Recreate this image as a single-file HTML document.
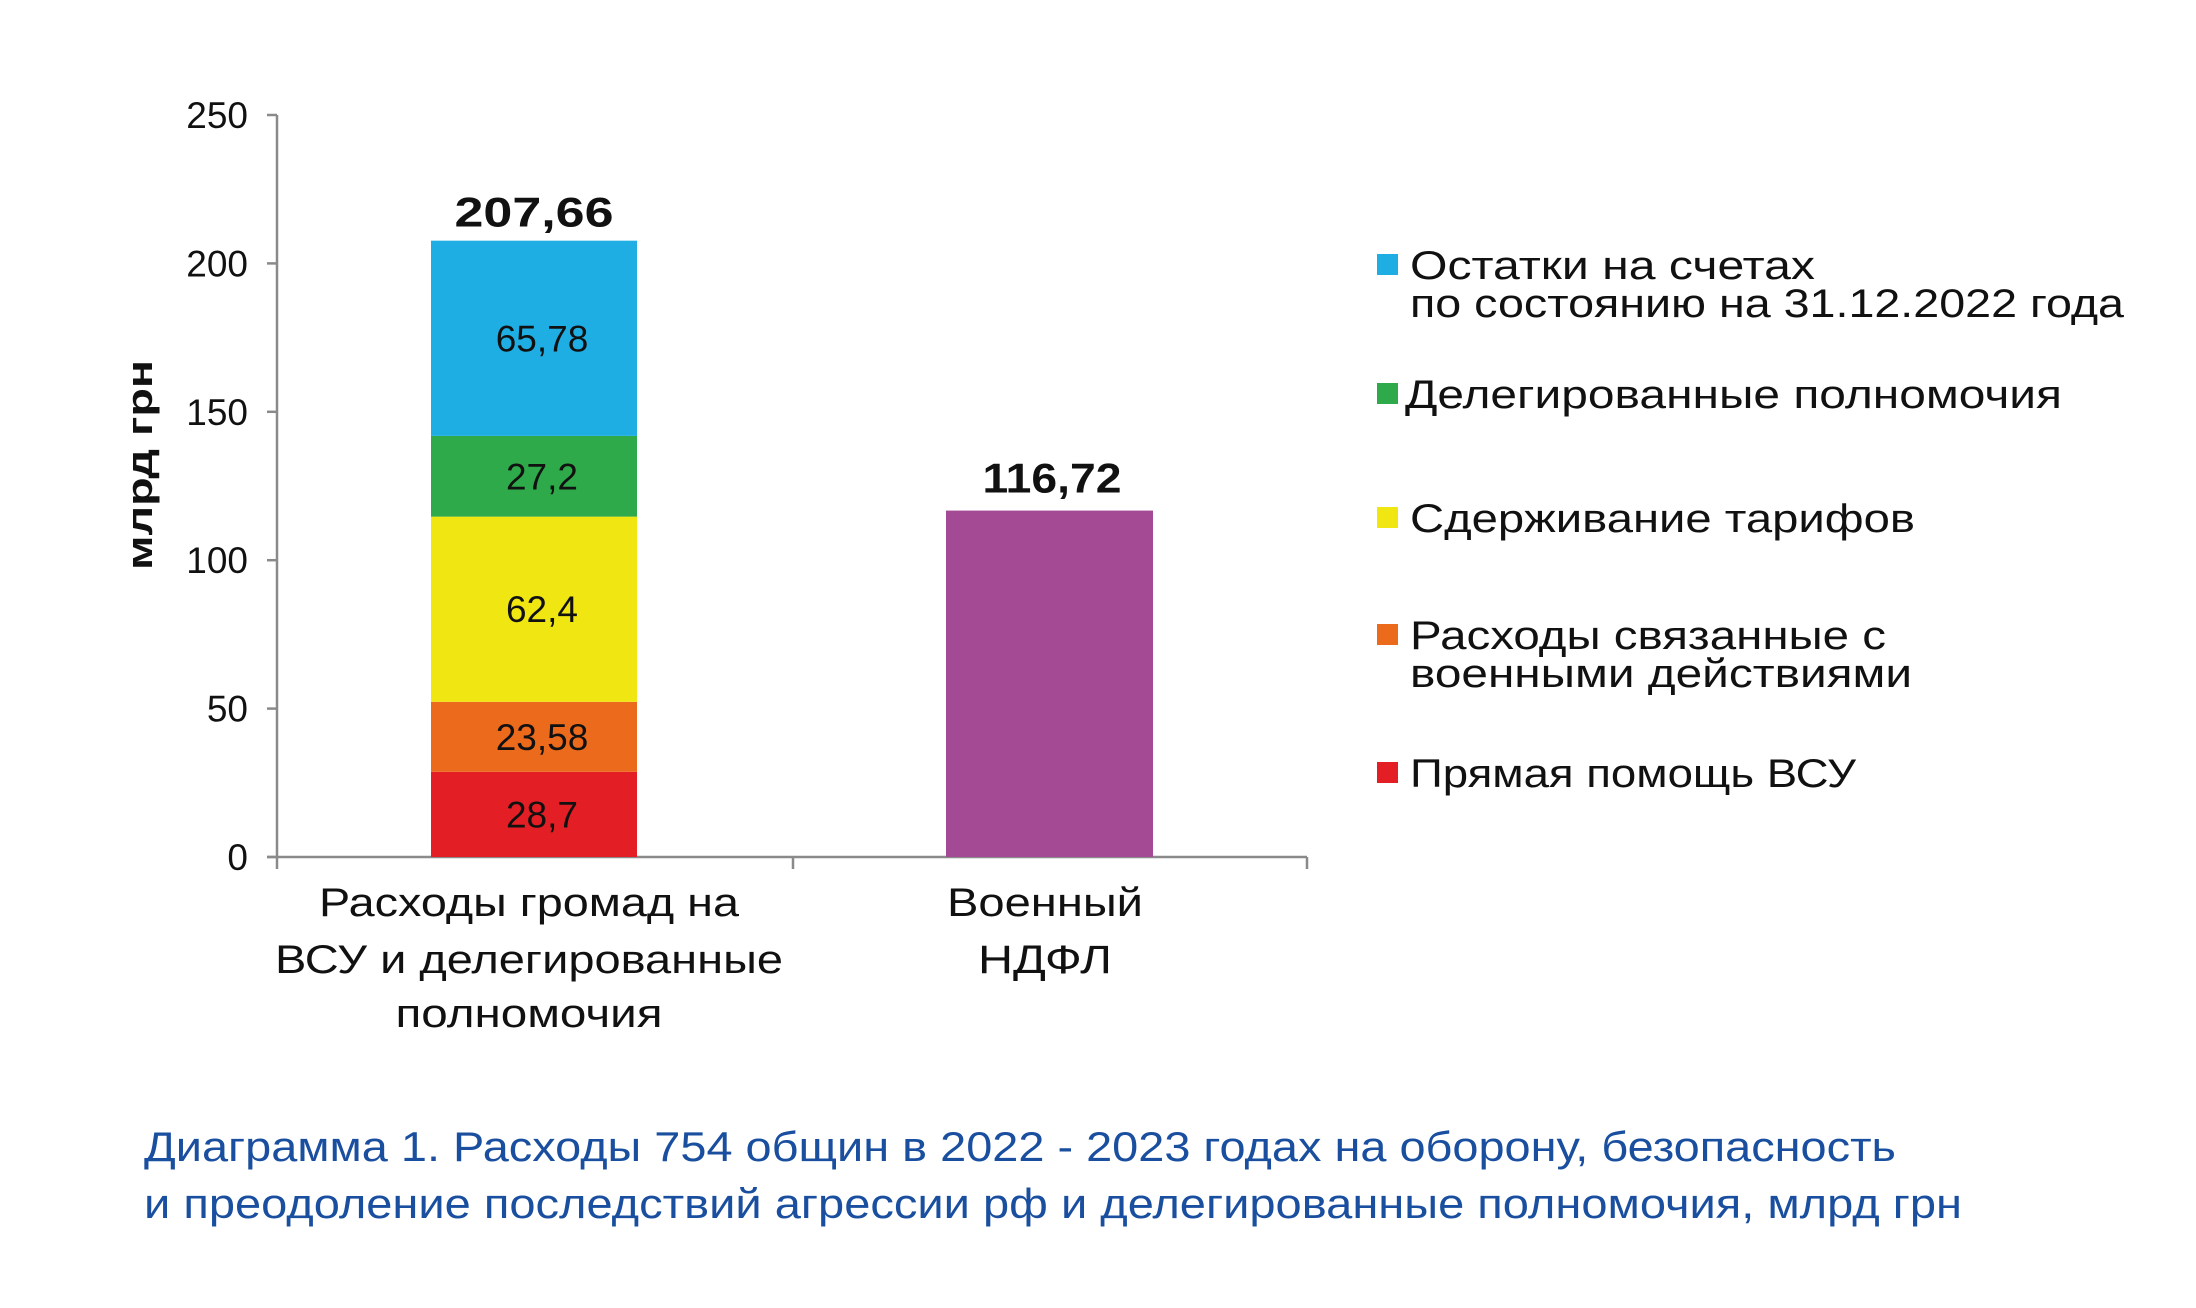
<!DOCTYPE html>
<html><head><meta charset="utf-8"><style>
body{margin:0;background:#fff}
svg text{font-family:"Liberation Sans",sans-serif}
</style></head><body>
<svg id="chart" width="2196" height="1303" xmlns="http://www.w3.org/2000/svg"></svg>
<script>
const yTicks=[0,50,100,150,200,250];
const stackNames=["Прямая помощь ВСУ","Расходы связанные с военными действиями","Сдерживание тарифов","Делегированные полномочия","Остатки на счетах"];
const stackValues=[28.7,23.58,62.4,27.2,65.78];
const stackLabels=["28,7","23,58","62,4","27,2","65,78"];
const stackTotalLabel="207,66";
const ndflValue=116.72;
const ndflLabel="116,72";
const colors=["#e31e24","#ec6a1c","#f0e611","#2eaa4a","#1eaee4"];
const svg=document.getElementById('chart');
const NS='http://www.w3.org/2000/svg';
const y0=857,y1=115,x0=277,xEnd=1307;
const y=v=>y0-(v/250)*(y0-y1);
function mk(t,a,txt){const e=document.createElementNS(NS,t);for(const k in a)e.setAttribute(k,a[k]);if(txt!=null)e.textContent=txt;svg.appendChild(e);return e;}
function fit(e,len){e.setAttribute('textLength',len);e.setAttribute('lengthAdjust','spacingAndGlyphs');}
let e;
e=mk('line',{x1:x0,y1:y1,x2:x0,y2:y0,stroke:'#8a8a8a','stroke-width':2.5});

e=mk('line',{x1:x0-10,y1:y0,x2:xEnd,y2:y0,stroke:'#8a8a8a','stroke-width':2.5});

[x0,793,xEnd].forEach(xx=>{e=mk('line',{x1:xx,y1:y0,x2:xx,y2:y0+12,stroke:'#8a8a8a','stroke-width':2.5});
});
yTicks.forEach(t=>{
e=mk('line',{x1:x0-10,y1:y(t),x2:x0,y2:y(t),stroke:'#8a8a8a','stroke-width':2.5});

e=mk('text',{x:248,y:y(t)+13,'text-anchor':'end','font-size':37,fill:'#111'},String(t));

});
e=mk('text',{x:0,y:0,transform:'translate(152,465) rotate(-90)','text-anchor':'middle','font-size':36,'font-weight':'bold',fill:'#111'},'млрд грн');
fit(e,210);

let cum=0;const bx=431,bw=206;
stackValues.forEach((v,i)=>{
e=mk('rect',{x:bx,y:y(cum+v),width:bw,height:y(cum)-y(cum+v),fill:colors[i]});

e=mk('text',{x:bx+bw/2+8,y:(y(cum)+y(cum+v))/2+13,'text-anchor':'middle','font-size':37,fill:'#111'},stackLabels[i]);

cum+=v;});
e=mk('text',{x:bx+bw/2,y:y(cum)-14,'text-anchor':'middle','font-size':42,'font-weight':'bold',fill:'#111'},stackTotalLabel);
fit(e,159);

e=mk('rect',{x:946,y:y(ndflValue),width:207,height:y0-y(ndflValue),fill:'#a44a95'});

e=mk('text',{x:1052,y:y(ndflValue)-18,'text-anchor':'middle','font-size':42,'font-weight':'bold',fill:'#111'},ndflLabel);
fit(e,139);

[["Расходы громад на",902,420],["ВСУ и делегированные",959,508],["полномочия",1013,267]].forEach(([t,yy,w])=>{
e=mk('text',{x:529,y:yy+14,'text-anchor':'middle','font-size':40,fill:'#111'},t);fit(e,w);
});
[["Военный",902,196],["НДФЛ",959,134]].forEach(([t,yy,w])=>{
e=mk('text',{x:1045,y:yy+14,'text-anchor':'middle','font-size':40,fill:'#111'},t);fit(e,w);
});
const legend=[[4,["Остатки на счетах","по состоянию на 31.12.2022 года"],[405,714],265],[3,["Делегированные полномочия"],[657],394],[2,["Сдерживание тарифов"],[505],518],[1,["Расходы связанные с","военными действиями"],[476,502],635],[0,["Прямая помощь ВСУ"],[446],773]];
legend.forEach(([ci,lines,ws,yy])=>{
e=mk('rect',{x:1377,y:yy-11,width:21,height:21,fill:colors[ci]});

lines.forEach((t,j)=>{e=mk('text',{x:ci==3?1405:1410,y:yy+14+j*38,'font-size':40,fill:'#111'},t);fit(e,ws[j]);
});
});
e=mk('text',{x:144,y:1161,'font-size':42,fill:'#1a4fa0'},'Диаграмма 1. Расходы 754 общин в 2022 - 2023 годах на оборону, безопасность');
fit(e,1752);

e=mk('text',{x:144,y:1218,'font-size':42,fill:'#1a4fa0'},'и преодоление последствий агрессии рф и делегированные полномочия, млрд грн');
fit(e,1818);

</script>
</body></html>
